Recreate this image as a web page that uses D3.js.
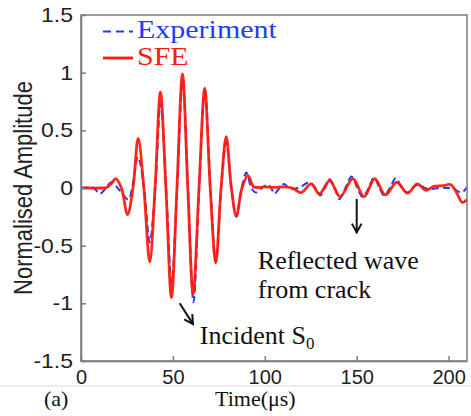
<!DOCTYPE html>
<meta charset="utf-8">
<style>
  body { margin: 0; background: #fff; }
  .tick-label { font-family: "Liberation Sans", Arial, sans-serif; font-size: 20px; fill: #222; }
  .serif { font-family: "Liberation Serif", "Times New Roman", serif; }
</style>
<body>
<div id="chart"></div>
<script src="https://d3js.org/d3.v7.min.js"></script>
<script>
  // Experiment (blue dashed)
  var expTime = [0, 5, 7, 10.3, 13.5, 16.6, 21, 25.7, 27.8, 31, 34.3, 37.4, 40.4, 43.3, 46.3, 49.3, 52.3, 55.3, 58.2, 61.2,
    64.3, 67.4, 70.4, 73.4, 76.3, 79, 81.8, 84.5, 87.4, 90, 92.7, 95.3, 98.5, 101.6, 103.5, 105.2, 108, 110.6, 113, 115.2,
    119.5, 124.3, 127.5, 130.2, 132.7, 135.2, 138, 140.6, 143.8, 147.2, 150.3, 153.3, 156.5, 159.5, 162.3, 165, 168,
    171.3, 174.5, 177.6, 181, 184, 187, 190, 195, 200, 203, 207, 210];
  var expAmp = [0, 0.005, 0, -0.05, 0, 0.05, -0.02, -0.1, 0, 0.27, 0, -0.47, 0, 0.73, 0, -0.82, 0, 0.93, 0, -0.99,
    0, 0.87, 0, -0.64, 0, 0.395, 0, -0.25, 0, 0.135, 0, -0.04, 0, 0.03, 0, -0.05, 0, 0.035, 0, -0.01,
    0.01, 0.05, 0, -0.065, 0, 0.075, 0, -0.095, 0, 0.1, 0, -0.08, 0, 0.092, 0, -0.067, 0,
    0.087, 0, -0.04, 0.01, 0.03, 0, -0.01, 0, 0, -0.01, -0.04, 0.005];

  // SFE (red solid)
  var sfeTime = [0, 5, 10, 14, 16.5, 19, 22, 25.3, 28.3, 31.1, 34.2, 37.4, 40.3, 43.2, 46.2, 49.2, 52.2, 55.2, 58.1, 61,
    64.2, 67.3, 70.3, 73.3, 76.2, 79, 81.8, 84.5, 87.6, 90.8, 94, 97, 100, 105, 110, 115, 119.8, 125.2, 129.7, 135.3,
    141, 147.9, 154, 159.8, 165.6, 171.8, 177.6, 183, 187.6, 192, 197, 201, 204, 207.4, 210];
  var sfeAmp = [0, 0, 0, 0.005, 0.04, 0.08, 0, -0.23, 0, 0.43, 0, -0.64, 0, 0.83, 0, -0.95, 0, 0.99, 0, -0.92,
    0, 0.86, 0, -0.65, 0, 0.445, 0, -0.24, 0, 0.107, 0.01, 0.005, 0.01, 0.005, 0.01, 0, -0.04, 0.035, -0.05, 0.063,
    -0.075, 0.08, -0.075, 0.08, -0.06, 0.05, -0.045, 0.035, -0.02, 0.015, 0.02, 0.03, -0.03, -0.125, -0.1];

  var xTicks = [0, 50, 100, 150, 200];
  var yTicks = [-1.5, -1, -0.5, 0, 0.5, 1, 1.5];
  var seriesNames = ["Experiment", "SFE"];
  var seriesColors = ["#1f3cf5", "#ff1a0f"];

  var W = 471, H = 416;
  var svg = d3.select("#chart").append("svg")
    .attr("width", W).attr("height", H);

  var x = d3.scaleLinear().domain([0, 210]).range([81, 467]);
  var y = d3.scaleLinear().domain([-1.5, 1.5]).range([361, 15]);

  var axisColor = "#7a7a7a";

  // stretch text horizontally around its own anchor
  function stretch(sel, k) {
    sel.each(function () {
      var t = d3.select(this);
      var tx = +t.attr("x") || 0;
      t.attr("transform", "translate(" + tx + ",0) scale(" + k + ",1) translate(" + (-tx) + ",0)");
    });
  }

  // lines
  function toPts(ts, vs) { return ts.map(function (t, i) { return [t, vs[i]]; }); }
  var line = d3.line()
    .curve(d3.curveCatmullRom)
    .x(function (d) { return x(d[0]); })
    .y(function (d) { return y(d[1]); });

  var plot = svg.append("g");
  plot.append("path")
    .attr("d", line(toPts(expTime, expAmp)))
    .attr("fill", "none")
    .attr("stroke", seriesColors[0])
    .attr("stroke-width", 2)
    .attr("stroke-dasharray", "7,4");
  plot.append("path")
    .attr("d", line(toPts(sfeTime, sfeAmp)))
    .attr("fill", "none")
    .attr("stroke", seriesColors[1])
    .attr("stroke-width", 2.8)
    .attr("opacity", 0.95);

  // box + axes
  svg.append("rect")
    .attr("x", x(0)).attr("y", y(1.5))
    .attr("width", x(210) - x(0)).attr("height", y(-1.5) - y(1.5))
    .attr("fill", "none").attr("stroke", axisColor).attr("stroke-width", 1.5);

  var gx = svg.append("g").attr("transform", "translate(0," + y(-1.5) + ")")
    .call(d3.axisBottom(x).tickValues(xTicks).tickSizeInner(-5).tickSizeOuter(0).tickPadding(9));
  var gy = svg.append("g").attr("transform", "translate(" + x(0) + ",0)")
    .call(d3.axisLeft(y).tickValues(yTicks).tickSizeInner(-5).tickSizeOuter(0).tickPadding(8)
      .tickFormat(function (d) { return String(d); }));

  [gx, gy].forEach(function (g) {
    g.select(".domain").attr("stroke", axisColor).attr("stroke-width", 1.5);
    g.selectAll(".tick line").attr("stroke", axisColor).attr("stroke-width", 1.5);
    g.selectAll(".tick text").attr("class", "tick-label").attr("font-size", null).attr("font-family", null);
  });
  gx.selectAll(".tick text").attr("dy", "0.71em");
  stretch(gy.selectAll(".tick text"), 1.15);

  // y label (glyphs widened like the rest of the figure)
  svg.append("text")
    .attr("class", "tick-label")
    .style("font-size", "22px")
    .attr("transform", "translate(32," + y(0) + ") rotate(-90) scale(1,1.15)")
    .attr("text-anchor", "middle")
    .text("Normalised Amplitude");

  // legend
  var legY = [31.5, 58];
  seriesNames.forEach(function (name, i) {
    svg.append("line")
      .attr("x1", 103).attr("x2", 133).attr("y1", legY[i]).attr("y2", legY[i])
      .attr("stroke", seriesColors[i]).attr("stroke-width", i ? 2.8 : 2)
      .attr("stroke-dasharray", i ? null : "8,5");
    var t = svg.append("text")
      .attr("class", "serif")
      .attr("x", 137).attr("y", legY[i] + 7)
      .attr("font-size", 25)
      .attr("fill", seriesColors[i])
      .text(name);
    stretch(t, 1.2);
  });

  // annotations
  var ann = svg.append("g").attr("stroke", "#111").attr("stroke-width", 2).attr("fill", "none");
  function arrow(t0, v0, t1, v1) {
    var x0 = x(t0), y0 = y(v0), x1 = x(t1), y1 = y(v1);
    var a = Math.atan2(y1 - y0, x1 - x0), L = 10, s = 0.5;
    ann.append("line").attr("x1", x0).attr("y1", y0).attr("x2", x1).attr("y2", y1);
    ann.append("path").attr("d",
      "M" + (x1 - L * Math.cos(a - s)) + "," + (y1 - L * Math.sin(a - s)) +
      "L" + x1 + "," + y1 +
      "L" + (x1 - L * Math.cos(a + s)) + "," + (y1 - L * Math.sin(a + s)));
  }
  arrow(53.7, -1.0, 60.9, -1.18);
  arrow(150, -0.095, 150, -0.385);

  var inc = svg.append("text").attr("class", "serif")
    .attr("x", x(64.6)).attr("y", y(-1.352))
    .attr("font-size", 26).attr("fill", "#111");
  inc.append("tspan").text("Incident S");
  inc.append("tspan").attr("font-size", 17).attr("dy", 5).text("0");

  svg.append("text").attr("class", "serif")
    .attr("x", x(96.2)).attr("y", y(-0.70))
    .attr("font-size", 26).attr("fill", "#111")
    .text("Reflected wave");
  svg.append("text").attr("class", "serif")
    .attr("x", x(96.2)).attr("y", y(-0.95))
    .attr("font-size", 26).attr("fill", "#111")
    .text("from crack");

  // caption strip
  svg.append("line")
    .attr("x1", 0).attr("x2", W).attr("y1", 386).attr("y2", 386)
    .attr("stroke", "#dcdcdc").attr("stroke-width", 1);
  svg.append("text").attr("class", "serif")
    .attr("x", 44).attr("y", 406)
    .attr("font-size", 22).attr("fill", "#111")
    .text("(a)");
  svg.append("text").attr("class", "serif")
    .attr("x", 215).attr("y", 406)
    .attr("font-size", 22).attr("fill", "#111")
    .text("Time(\u03bcs)");
</script>
</body>
